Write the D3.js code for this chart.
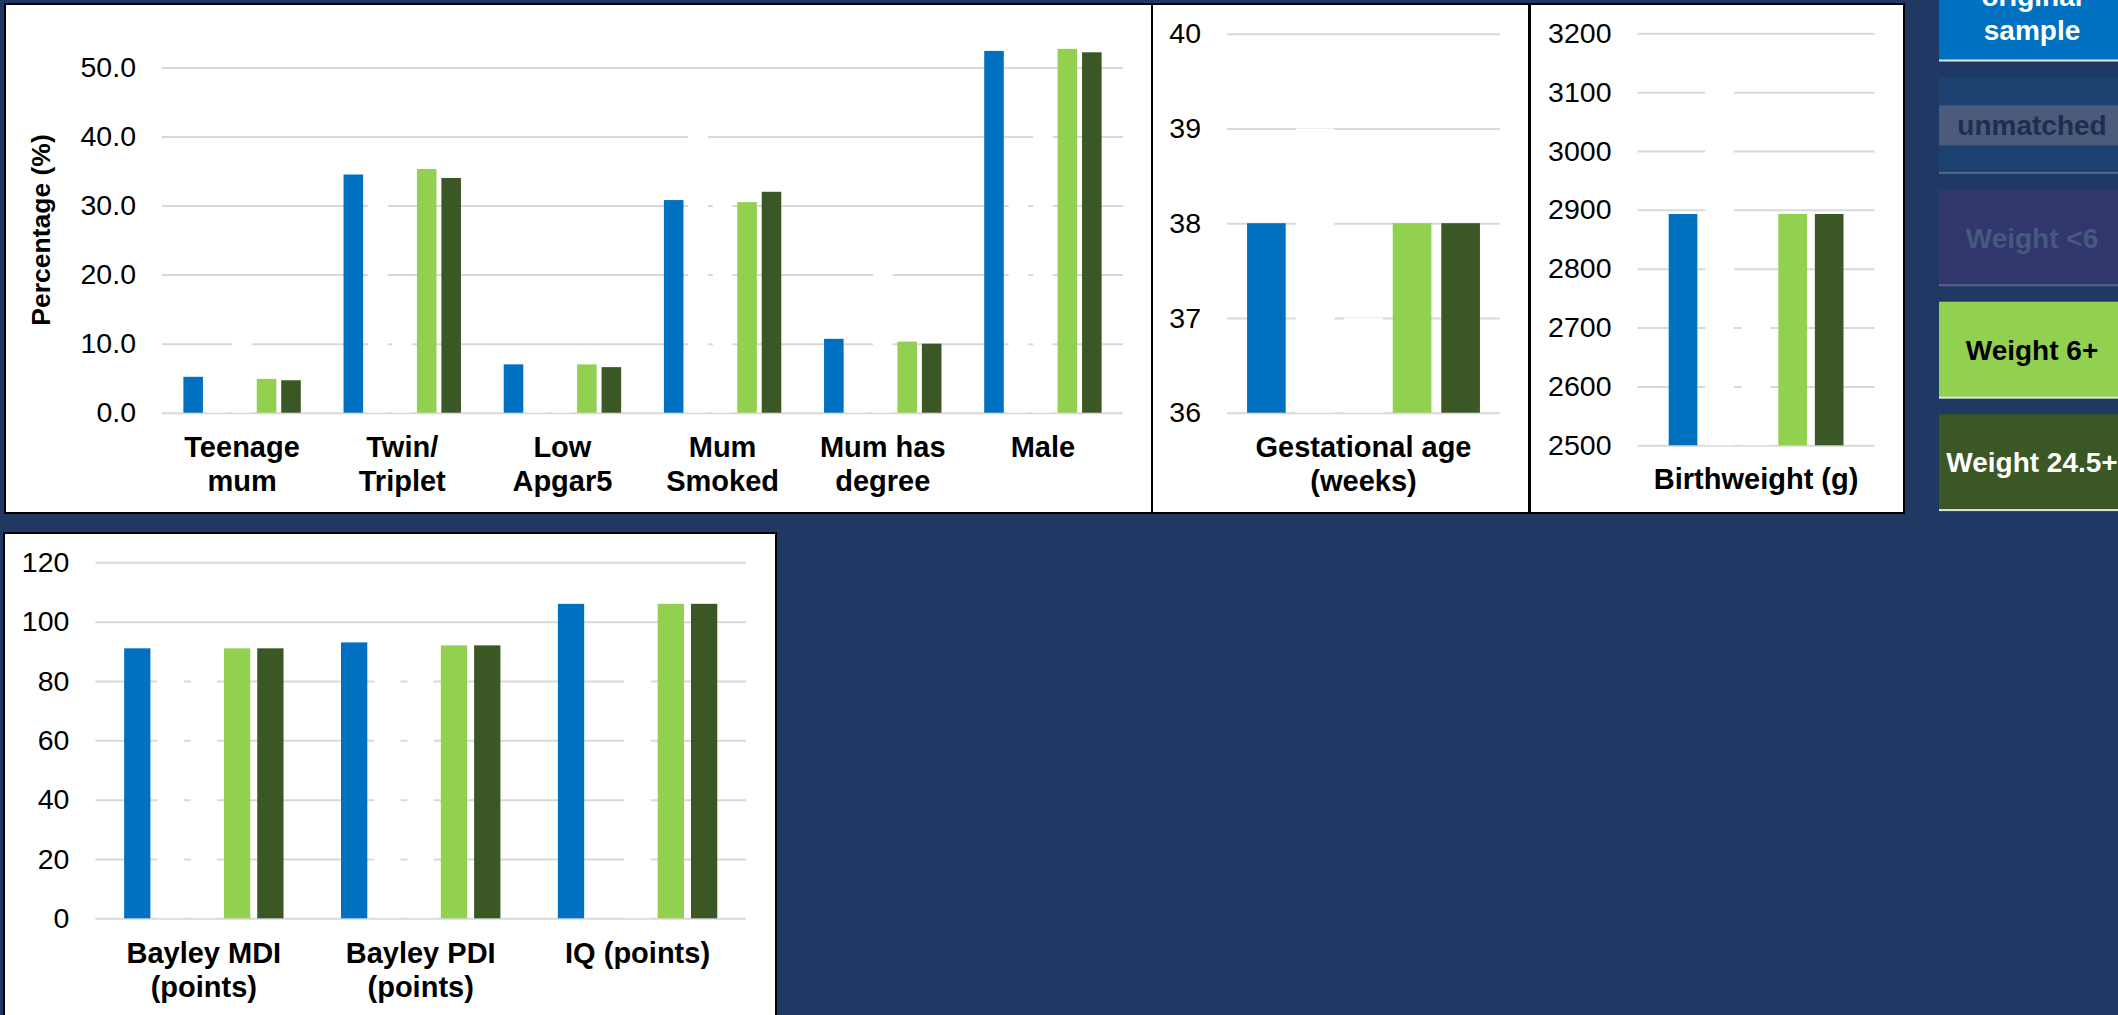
<!DOCTYPE html>
<html>
<head>
<meta charset="utf-8">
<script src="https://cdn.jsdelivr.net/npm/d3@7"></script>
<style>
  html, body { margin: 0; padding: 0; background: #203864; overflow: hidden; }
  svg { display: block; }
  text { font-family: "Liberation Sans", Arial, Helvetica, sans-serif; }
</style>
</head>
<body>
<svg id="chart" width="2118" height="1015"></svg>
<script>
// ---- Series (the "unmatched" and "Weight <6" groups are blanked out in white) ----
const seriesNames = ["original sample", "unmatched", "Weight <6", "Weight 6+", "Weight 24.5+"];
const legendLabels = ["original\nsample", "unmatched", "Weight <6", "Weight 6+", "Weight 24.5+"];

// ---- Panel 1: risk factors, percentages ----
const riskCategories = ["Teenage\nmum", "Twin/\nTriplet", "Low\nApgar5", "Mum\nSmoked", "Mum has\ndegree", "Male"];
const riskOriginal  = [5.2, 34.5, 7.0, 30.8, 10.7, 52.4];
const riskUnmatched = [6.0, 36.0, 8.0, 45.0, 6.0, 36.0];
const riskUnder6    = [15.0, 15.0, 8.0, 35.0, 25.0, 45.0];
const riskOver6     = [4.9, 35.3, 7.0, 30.5, 10.3, 52.7];
const riskOver24    = [4.7, 34.0, 6.6, 32.0, 10.0, 52.2];
const percentTicks  = [0, 10, 20, 30, 40, 50];

// ---- Panel 2: gestational age ----
const gestCategories = ["Gestational age\n(weeks)"];
const gestOriginal  = [38.0];
const gestUnmatched = [39.0];
const gestUnder6    = [37.0];
const gestOver6     = [38.0];
const gestOver24    = [38.0];
const gestTicks     = [36, 37, 38, 39, 40];

// ---- Panel 3: birthweight ----
const bwCategories = ["Birthweight (g)"];
const bwOriginal  = [2893];
const bwUnmatched = [3150];
const bwUnder6    = [2750];
const bwOver6     = [2893];
const bwOver24    = [2893];
const bwTicks     = [2500, 2600, 2700, 2800, 2900, 3000, 3100, 3200];

// ---- Panel 4: developmental outcomes ----
const devCategories = ["Bayley MDI\n(points)", "Bayley PDI\n(points)", "IQ (points)"];
const devOriginal  = [91, 93, 106];
const devUnmatched = [90, 90, 0];
const devUnder6    = [88, 88, 95];
const devOver6     = [91, 92, 106];
const devOver24    = [91, 92, 106];
const devTicks     = [0, 20, 40, 60, 80, 100, 120];

// ---- Styling ----
const seriesFill = {
  "original sample": "#0070c0",
  "unmatched": "#ffffff",
  "Weight <6": "#ffffff",
  "Weight 6+": "#92d050",
  "Weight 24.5+": "#3b5725"
};
const legendStyle = [
  { fill: "#0070c0", text: "#ffffff", line: "rgba(255,255,255,0.85)" },
  { fill: "#1c406f", text: "#1d2e50", line: "rgba(255,255,255,0.22)", band: "#4a5b7b" },
  { fill: "#31376c", text: "#47597f", line: "rgba(255,255,255,0.22)" },
  { fill: "#92d050", text: "#000000", line: "rgba(255,255,255,0.7)" },
  { fill: "#3b5725", text: "#ffffff", line: "rgba(255,255,255,0.85)" }
];

const svg = d3.select("#chart");

function drawPanel(cfg) {
  const g = svg.append("g");
  // white card with dark border
  g.append("rect")
    .attr("x", cfg.frame[0]).attr("y", cfg.frame[1])
    .attr("width", cfg.frame[2]).attr("height", cfg.frame[3])
    .attr("fill", "#ffffff").attr("stroke", "#000000").attr("stroke-width", 2);

  const y = d3.scaleLinear().domain(cfg.domain).range([cfg.yBottom, cfg.yTop]);
  const x0 = d3.scaleBand().domain(cfg.categories).range([cfg.xLeft, cfg.xRight]);
  const plotW = cfg.xRight - cfg.xLeft;

  // gridlines + tick labels
  const axis = d3.axisLeft(y)
    .tickValues(cfg.ticks)
    .tickFormat(cfg.format)
    .tickSize(-plotW)
    .tickPadding(26);
  const ag = g.append("g").attr("transform", `translate(${cfg.xLeft},0)`).call(axis);
  ag.select(".domain").remove();
  ag.selectAll(".tick line").attr("stroke", "#d9d9d9").attr("stroke-width", 2);
  ag.selectAll(".tick text")
    .attr("fill", "#000000")
    .style("font-size", "28.5px")
    .style("font-family", "'Liberation Sans', Arial, sans-serif");

  // grouped bars
  const rows = cfg.categories.map((c, i) => ({
    cat: c,
    vals: seriesNames.map((s, k) => ({ series: s, value: cfg.values[k][i] }))
  }));
  const groups = g.append("g").selectAll("g").data(rows).join("g");
  groups.each(function (d) {
    const cx = x0(d.cat) + x0.bandwidth() / 2;
    const gw = x0.bandwidth() * cfg.groupFrac;
    const x1 = d3.scaleBand().domain(seriesNames)
      .range([cx - gw / 2, cx + gw / 2]).paddingInner(cfg.pad);
    d3.select(this).selectAll("rect").data(d.vals).join("rect")
      .attr("x", v => x1(v.series))
      .attr("width", x1.bandwidth())
      .attr("y", v => y(Math.max(v.value, cfg.domain[0])))
      .attr("height", v => y(cfg.domain[0]) - y(Math.max(v.value, cfg.domain[0])))
      .attr("fill", v => seriesFill[v.series]);
  });

  // category labels
  const lab = g.append("g").selectAll("text").data(cfg.categories).join("text")
    .attr("text-anchor", "middle")
    .attr("x", c => x0(c) + x0.bandwidth() / 2)
    .attr("y", cfg.labelY)
    .attr("fill", "#000000")
    .style("font-size", "29px")
    .style("font-weight", "bold");
  lab.each(function (c) {
    const t = d3.select(this);
    c.split("\n").forEach((line, li) => {
      t.append("tspan")
        .attr("x", t.attr("x"))
        .attr("dy", li === 0 ? 0 : 33.5)
        .text(line);
    });
  });

  if (cfg.yTitle) {
    g.append("text")
      .attr("transform", `translate(${cfg.yTitle.x},${cfg.yTitle.y}) rotate(-90)`)
      .attr("text-anchor", "middle")
      .attr("fill", "#000000")
      .style("font-size", "26.5px")
      .style("font-weight", "bold")
      .text(cfg.yTitle.text);
  }
}

drawPanel({
  frame: [5, 4, 1147, 509],
  categories: riskCategories,
  values: [riskOriginal, riskUnmatched, riskUnder6, riskOver6, riskOver24],
  domain: [0, 50], ticks: percentTicks, format: d3.format(".1f"),
  xLeft: 162, xRight: 1123, yBottom: 412.7, yTop: 67.5,
  groupFrac: 0.733, pad: 0.2, labelY: 457,
  yTitle: { x: 50, y: 230, text: "Percentage (%)" }
});

drawPanel({
  frame: [1152, 4, 377, 509],
  categories: gestCategories,
  values: [gestOriginal, gestUnmatched, gestUnder6, gestOver6, gestOver24],
  domain: [36, 40], ticks: gestTicks, format: d3.format("d"),
  xLeft: 1227, xRight: 1500, yBottom: 412.7, yTop: 33.7,
  groupFrac: 0.853, pad: 0.204, labelY: 457
});

drawPanel({
  frame: [1530, 4, 374, 509],
  categories: bwCategories,
  values: [bwOriginal, bwUnmatched, bwUnder6, bwOver6, bwOver24],
  domain: [2500, 3200], ticks: bwTicks, format: d3.format("d"),
  xLeft: 1637.5, xRight: 1874.7, yBottom: 445.3, yTop: 33.3,
  groupFrac: 0.737, pad: 0.216, labelY: 489
});

drawPanel({
  frame: [4, 533, 772, 500],
  categories: devCategories,
  values: [devOriginal, devUnmatched, devUnder6, devOver6, devOver24],
  domain: [0, 120], ticks: devTicks, format: d3.format("d"),
  xLeft: 95.4, xRight: 746, yBottom: 918.3, yTop: 562.3,
  groupFrac: 0.735, pad: 0.21, labelY: 963
});

// ---- Legend column ----
const legX = 1939, legW = 190, legH = 96.5, legTop0 = -35.5, legStep = 112.4;
const leg = svg.append("g").selectAll("g").data(legendLabels).join("g")
  .attr("transform", (d, i) => `translate(${legX},${legTop0 + i * legStep})`);
leg.append("rect")
  .attr("width", legW).attr("height", legH)
  .attr("fill", (d, i) => legendStyle[i].fill);
leg.filter((d, i) => legendStyle[i].band)
  .append("rect")
  .attr("y", 28.5).attr("width", legW).attr("height", 40)
  .attr("fill", (d, i) => legendStyle[1].band);
leg.append("rect")
  .attr("y", legH - 1.5).attr("width", legW).attr("height", 2)
  .attr("fill", (d, i) => legendStyle[i].line);
leg.append("text")
  .attr("text-anchor", "middle")
  .attr("fill", (d, i) => legendStyle[i].text)
  .style("font-size", "28px")
  .style("font-weight", "bold")
  .each(function (d) {
    const lines = d.split("\n");
    const t = d3.select(this);
    lines.forEach((line, li) => {
      t.append("tspan")
        .attr("x", 93)
        .attr("y", legH / 2 + 10 + (li - (lines.length - 1) / 2) * 34)
        .text(line);
    });
  });
</script>
</body>
</html>
